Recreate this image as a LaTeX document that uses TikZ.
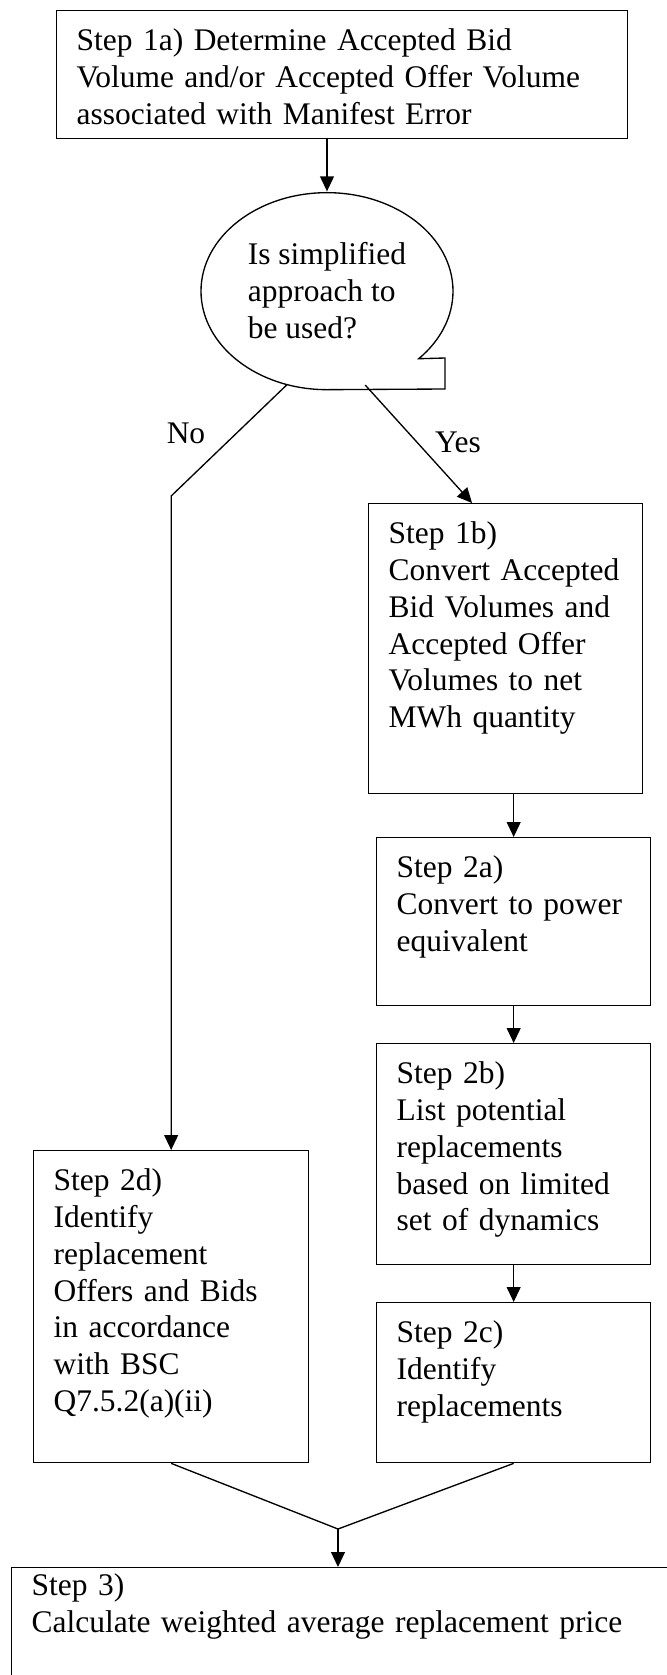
\documentclass[tikz,border=0pt]{standalone}
\usepackage{fontspec}
\setmainfont{Liberation Serif}
\usetikzlibrary{arrows.meta,shapes.geometric}

\begin{document}
\begin{tikzpicture}[x=0.375pt,y=-0.375pt,line width=0.5pt,
    every node/.style={font=\fontsize{11.8}{13.8}\selectfont},
    stepbox/.style={rectangle,draw,anchor=north west,align=left,inner xsep=7.5pt,inner ysep=0pt,text height=15pt},
    question/.style={ellipse,inner sep=0pt,minimum width=94.5pt,minimum height=73.875pt,align=left},
    flowarrow/.style={-{Triangle[length=5.6pt,width=5.2pt]}}]

    \useasboundingbox (0,0) rectangle (667,1675);
    \clip (0,0) rectangle (667,1675);

    \node [stepbox, text width=199.125pt, text depth=33pt] (step1a) at (56,10) {Step 1a) Determine Accepted Bid\\Volume and/or Accepted Offer Volume\\associated with Manifest Error};
    \node [question] (question) at (327,290.5) {Is simplified\\approach to\\be used?};
    \draw (question.south) arc [start angle=270, end angle=-43.3, x radius=47.25pt, y radius=36.94pt] -- (445,358) -- (445,389) -- cycle;

    \node [stepbox, text width=87.75pt, text depth=93.75pt] (step1b) at (368,503) {Step 1b)\\\mbox{Convert Accepted}\\Bid Volumes and\\Accepted Offer\\Volumes to net\\MWh quantity};
    \node [stepbox, text width=87.75pt, text depth=48pt] (step2a) at (376,837) {Step 2a)\\Convert to power\\equivalent};
    \node [stepbox, text width=87.75pt, text depth=67.875pt] (step2b) at (376,1043) {Step 2b)\\List potential\\replacements\\based on limited\\set of dynamics};
    \node [stepbox, text width=87.75pt, text depth=45pt] (step2c) at (376,1302) {Step 2c)\\Identify\\replacements};
    \node [stepbox, text width=88.125pt, text depth=102pt] (step2d) at (33,1150) {Step 2d)\\Identify\\replacement\\Offers and Bids\\in accordance\\with BSC\\Q7.5.2(a)(ii)};
    \node [stepbox, text width=235.875pt, text height=10.5pt, text depth=45pt] (step3) at (11,1567) {Step 3)\\Calculate weighted average replacement price};

    \node (nolabel) at (186,433) {No};
    \node (yeslabel) at (458,442) {Yes};

    \coordinate (nobend) at (step2d.north |- 0,496);
    \coordinate (join) at (338,1529);

    \draw [flowarrow] (step1a.south -| question.north) -- (question.north);
    \draw [flowarrow] (question.247) -- (nobend) -- (step2d.north);
    \draw [flowarrow] (question.292) -- (step1b.103);
    \draw [flowarrow] (step1b.south -| step2a.north) -- (step2a.north);
    \draw [flowarrow] (step2a.south) -- (step2b.north);
    \draw [flowarrow] (step2b.south) -- (step2c.north);
    \draw (step2d.south) -- (join) -- (step2c.south);
    \draw [flowarrow] (join) -- (join |- step3.north);

\end{tikzpicture}
\end{document}
